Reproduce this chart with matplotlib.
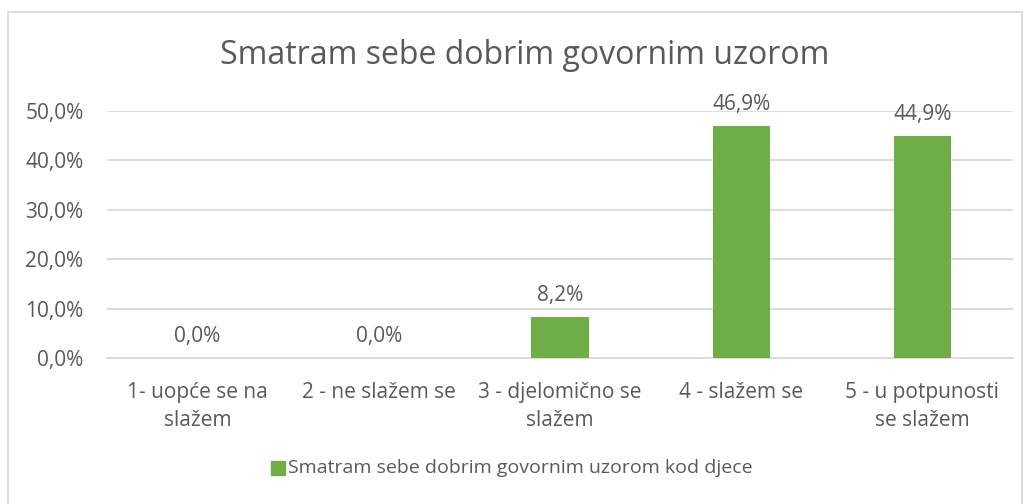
import matplotlib.pyplot as plt
from matplotlib.patches import Rectangle
from matplotlib.ticker import FuncFormatter

plt.rcParams['font.family'] = ['Open Sans', 'DejaVu Sans']

categories = ['1- uopće se na\nslažem', '2 - ne slažem se', '3 - djelomično se\nslažem',
              '4 - slažem se', '5 - u potpunosti\nse slažem']
values = [0.0, 0.0, 8.2, 46.9, 44.9]
series_name = 'Smatram sebe dobrim govornim uzorom kod djece'
title = 'Smatram sebe dobrim govornim uzorom'

green = '#70ad47'
txt = '#595959'
grid = '#d9d9d9'

fig = plt.figure(figsize=(10.32, 5.04), dpi=100)
ax = fig.add_axes([107/1032, 1 - 358/504, 906/1032, 247/504])

x = range(len(categories))
bars = ax.bar(x, values, width=0.315, color=green, zorder=3)
for xi, v in zip(x, values):
    ax.annotate(f'{v:.1f}%'.replace('.', ','), (xi, v), xytext=(0, 8),
                textcoords='offset points', ha='center', va='bottom',
                fontsize=15, color=txt, annotation_clip=False)

ax.set_xlim(-0.5, len(categories) - 0.5)
ax.set_ylim(0, 50)
ax.set_yticks([0, 10, 20, 30, 40, 50])
ax.yaxis.set_major_formatter(FuncFormatter(lambda v, p: f'{v:.1f}%'.replace('.', ',')))
ax.set_xticks(list(x))
ax.set_xticklabels(categories, linespacing=1.45)
ax.tick_params(axis='both', length=0, labelsize=15, labelcolor=txt)
ax.tick_params(axis='y', pad=17)
ax.tick_params(axis='x', pad=17)
ax.grid(axis='y', color=grid, lw=1.3, zorder=0)
for s in ['top', 'right', 'left']:
    ax.spines[s].set_visible(False)
ax.spines['bottom'].set_color(grid)
ax.spines['bottom'].set_linewidth(1.3)

fig.text(525/1032, 1 - 56/504, title, ha='center', va='center', fontsize=23, color=txt)

# legend
lx = 271/1032
ly = 1 - 468/504
fig.patches.append(Rectangle((lx, ly - 7/504), 14/1032, 14/504, transform=fig.transFigure,
                             color=green, figure=fig))
fig.text(lx + 17/1032, ly, series_name, ha='left', va='center', fontsize=14, color=txt)

fig.patches.append(Rectangle((8/1032, -0.01), 1014/1032, 1 - 12/504 + 0.01,
                             transform=fig.transFigure, fill=False, ec=grid, lw=1.3, figure=fig))

fig.savefig('out.png', dpi=100)
